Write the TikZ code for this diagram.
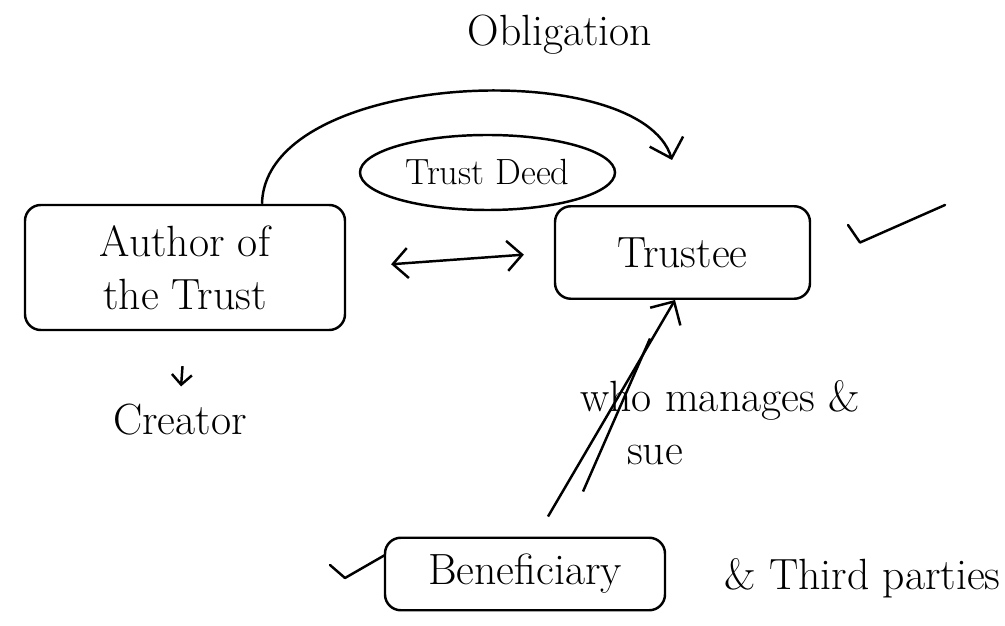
\documentclass[tikz,border=0pt]{standalone}
\usepackage{tikz}
\usetikzlibrary{arrows.meta,shapes.geometric}

\begin{document}
\begin{tikzpicture}[x=1cm,y=1cm, line width=1.4pt,
    box/.style={draw, rounded corners=9pt, align=center, font=\Huge},
    txt/.style={font=\Huge, inner sep=1pt},
    barb/.style={-{Straight Barb[length=3.5mm,width=7mm]}}]

  % -- page frame, same proportions as the sheet
  \path (0,0) rectangle (20.1,12.5);

  % -- the parties --
  \node[box, minimum width=6.4cm, minimum height=2.5cm] (author) at (3.7,7.15)
    {Author of\\ the Trust};
  \node[box, minimum width=5.1cm, minimum height=1.85cm] (trustee) at (13.65,7.45) {Trustee};
  \node[box, minimum width=5.6cm, minimum height=1.45cm] (benef) at (10.5,1.02) {Beneficiary};
  \node[draw, ellipse, minimum width=5.1cm, minimum height=1.5cm, inner sep=1pt, font=\huge]
    (deed) at (9.75,9.05) {Trust Deed};

  % -- loose words --
  \node[txt] (oblig) at (11.2,11.8) {Obligation};
  \node[txt] (creator) at (3.6,4.1) {Creator};
  \node[txt] (manages) at (14.4,4.5) {who manages \&};
  \node[txt] (sue) at (13.1,3.4) {sue};
  \node[txt] (thirdp) at (17.25,0.94) {\& Third parties};

  % -- obligation arc, ends just over the trustee
  \coordinate (obltip) at (13.44,9.3);
  \draw[barb] ([xshift=1.54cm]author.north) .. controls (5.3,11.1) and (12.8,11.4) .. (obltip);

  % -- author <-> trustee
  \draw[{Straight Barb[length=3mm,width=6mm]}-{Straight Barb[length=3mm,width=6mm]},
        shorten <=0.9cm, shorten >=0.6cm] (author.east) -- (trustee.west);

  % -- author is the creator
  \draw[-{Straight Barb[length=2mm,width=4mm]}, shorten <=0.7cm, shorten >=0.3cm]
    (author.south) -- (creator.north);

  % -- beneficiary goes up to the trustee (two strokes, meeting near the top)
  \draw[barb] ([shift={(0.46,0.4)}]benef.north) -- ([xshift=-0.15cm]trustee.south);
  \draw ([shift={(1.16,0.9)}]benef.north) -- ([shift={(-0.65,-0.77)}]trustee.south);

  % -- tick marks
  \draw[line cap=round, line join=round] (16.96,8.0) -- (17.2,7.65) -- (18.9,8.4);
  \draw[line cap=round, line join=round] (6.6,1.2) -- (6.9,0.94) -- (7.7,1.4);
\end{tikzpicture}
\end{document}
